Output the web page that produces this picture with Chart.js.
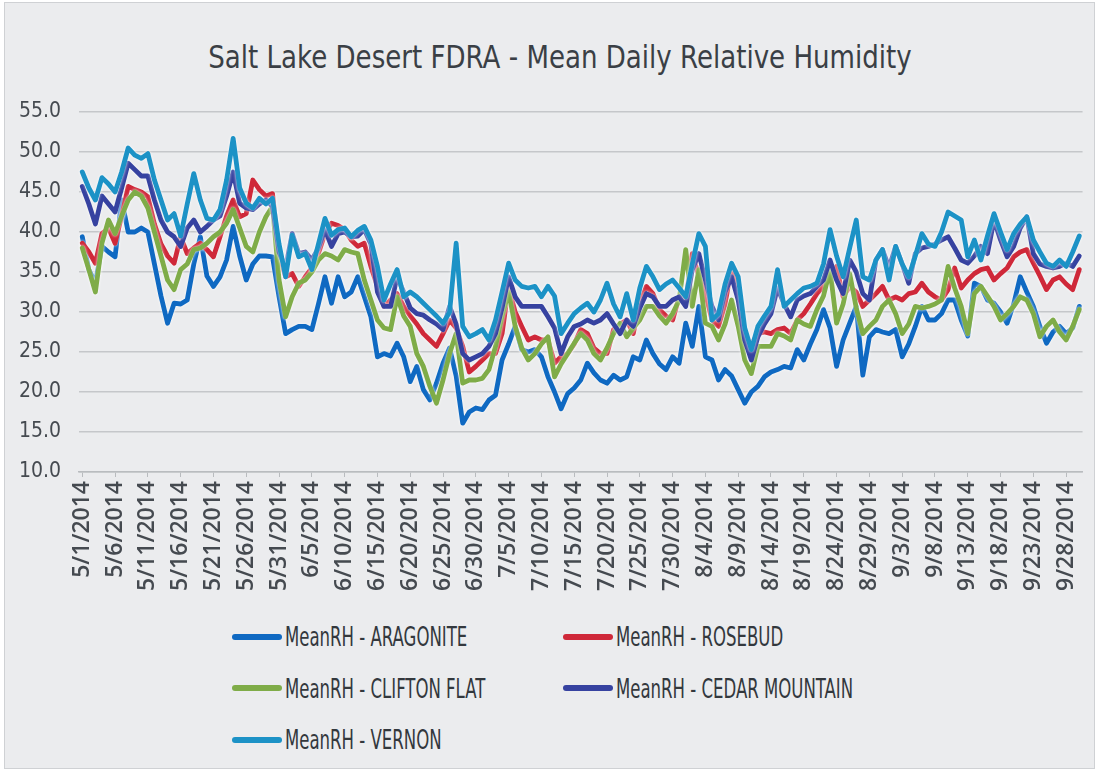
<!DOCTYPE html>
<html>
<head>
<meta charset="utf-8">
<title>Salt Lake Desert FDRA - Mean Daily Relative Humidity</title>
<script src="https://cdn.jsdelivr.net/npm/chart.js@4.4.1/dist/chart.umd.min.js"></script>
<style>
  html, body { margin: 0; padding: 0; }
  body { width: 1098px; height: 772px; background: #fff; overflow: hidden; position: relative; }
  .frame { position: absolute; left: 4px; top: 2px; right: 3px; bottom: 3px; background: #ebecee; border: 1px solid #cfd1d4; }
  #rhChart { position: absolute; left: 0; top: 0; }
  .chart-title {
    position: absolute; left: 0; width: 1120px; top: 39px; height: 36px; line-height: 36px;
    text-align: center; color: #3a3f45;
    font-family: 'Liberation Sans Narrow', 'DejaVu Sans Condensed', 'Roboto Condensed', Arial, sans-serif;
    font-size: 29px; transform: scaleY(1.12);
  }
  .legend {
    position: absolute; left: 232px; top: 611px;
    display: grid; grid-template-columns: 331px auto; grid-auto-rows: 51.5px;
    font-family: 'Liberation Sans Narrow', 'DejaVu Sans Condensed', 'Roboto Condensed', Arial, sans-serif;
    font-size: 18.4px; color: #33383d;
  }
  .legend-item { display: flex; align-items: center; white-space: nowrap; }
  .legend-item i { display: inline-block; width: 50px; height: 6px; border-radius: 3px; margin-right: 3px; }
  .legend-item span { display: inline-block; transform: scaleY(1.4); }
</style>
</head>
<body>
<div class="frame"></div>
<div class="chart-title">Salt Lake Desert FDRA - Mean Daily Relative Humidity</div>
<canvas id="rhChart" width="1098" height="600"></canvas>
<div class="legend" id="rhLegend"></div>
<script>
// categories: one per day, 5/1/2014 .. 9/30/2014
const dates = [
  '5/1/2014','5/2/2014','5/3/2014','5/4/2014','5/5/2014','5/6/2014','5/7/2014','5/8/2014','5/9/2014','5/10/2014',
  '5/11/2014','5/12/2014','5/13/2014','5/14/2014','5/15/2014','5/16/2014','5/17/2014','5/18/2014','5/19/2014','5/20/2014',
  '5/21/2014','5/22/2014','5/23/2014','5/24/2014','5/25/2014','5/26/2014','5/27/2014','5/28/2014','5/29/2014','5/30/2014',
  '5/31/2014',
  '6/1/2014','6/2/2014','6/3/2014','6/4/2014','6/5/2014','6/6/2014','6/7/2014','6/8/2014','6/9/2014','6/10/2014',
  '6/11/2014','6/12/2014','6/13/2014','6/14/2014','6/15/2014','6/16/2014','6/17/2014','6/18/2014','6/19/2014','6/20/2014',
  '6/21/2014','6/22/2014','6/23/2014','6/24/2014','6/25/2014','6/26/2014','6/27/2014','6/28/2014','6/29/2014','6/30/2014',
  '7/1/2014','7/2/2014','7/3/2014','7/4/2014','7/5/2014','7/6/2014','7/7/2014','7/8/2014','7/9/2014','7/10/2014',
  '7/11/2014','7/12/2014','7/13/2014','7/14/2014','7/15/2014','7/16/2014','7/17/2014','7/18/2014','7/19/2014','7/20/2014',
  '7/21/2014','7/22/2014','7/23/2014','7/24/2014','7/25/2014','7/26/2014','7/27/2014','7/28/2014','7/29/2014','7/30/2014',
  '7/31/2014',
  '8/1/2014','8/2/2014','8/3/2014','8/4/2014','8/5/2014','8/6/2014','8/7/2014','8/8/2014','8/9/2014','8/10/2014',
  '8/11/2014','8/12/2014','8/13/2014','8/14/2014','8/15/2014','8/16/2014','8/17/2014','8/18/2014','8/19/2014','8/20/2014',
  '8/21/2014','8/22/2014','8/23/2014','8/24/2014','8/25/2014','8/26/2014','8/27/2014','8/28/2014','8/29/2014','8/30/2014',
  '8/31/2014',
  '9/1/2014','9/2/2014','9/3/2014','9/4/2014','9/5/2014','9/6/2014','9/7/2014','9/8/2014','9/9/2014','9/10/2014',
  '9/11/2014','9/12/2014','9/13/2014','9/14/2014','9/15/2014','9/16/2014','9/17/2014','9/18/2014','9/19/2014','9/20/2014',
  '9/21/2014','9/22/2014','9/23/2014','9/24/2014','9/25/2014','9/26/2014','9/27/2014','9/28/2014','9/29/2014','9/30/2014'
];

// mean daily RH (%)
const aragonite = [
  39.4, 35.3, 33.6, 38.2, 37.5, 36.9, 44.0, 40.0, 40.0, 40.5,
  40.0, 36.0, 32.0, 28.6, 31.1, 31.0, 31.5, 36.0, 39.4, 34.5,
  33.2, 34.4, 36.5, 40.7, 37.0, 34.0, 36.0, 37.0, 37.0, 36.9,
  31.9, 27.3, 27.8, 28.2, 28.2, 27.8, 31.0, 34.4, 31.1, 34.4,
  31.9, 32.5, 34.4, 31.9, 29.4, 24.4, 24.8, 24.5, 26.1, 24.4,
  21.3, 23.2, 20.3, 19.0, 21.1, 23.6, 25.5, 22.0, 16.1, 17.5,
  18.0, 17.8, 19.0, 19.6, 24.0, 26.0, 28.2, 25.3, 25.0, 25.3,
  24.4, 21.9, 20.0, 17.9, 19.8, 20.5, 21.5, 23.6, 22.4, 21.5,
  21.1, 22.1, 21.5, 21.9, 24.4, 24.0, 26.5, 24.8, 23.5, 22.8,
  24.4, 23.6, 28.6, 25.7, 30.7, 24.4, 24.0, 21.5, 22.8, 22.0,
  20.3, 18.6, 20.0, 20.7, 21.9, 22.5, 22.8, 23.2, 23.0, 25.3,
  24.0, 26.0, 27.8, 30.3, 28.0, 23.2, 26.5, 28.6, 30.7, 22.1,
  26.9, 27.8, 27.5, 27.3, 27.8, 24.4, 26.0, 28.2, 30.7, 29.0,
  29.0, 29.8, 31.5, 31.5, 29.0, 27.0, 33.6, 33.2, 31.5, 31.1,
  30.0, 28.6, 31.0, 34.4, 32.5, 30.7, 28.2, 26.1, 27.5, 28.2,
  27.3, 28.0, 30.7
];
const rosebud = [
  38.6, 37.5, 36.1, 39.8, 40.5, 38.6, 42.0, 45.7, 45.3, 45.0,
  44.4, 41.0, 38.5, 37.0, 36.1, 39.4, 37.3, 38.0, 38.6, 37.8,
  36.9, 39.4, 42.0, 44.0, 41.9, 42.3, 46.5, 45.3, 44.5, 44.8,
  37.3, 34.4, 34.8, 33.2, 34.4, 35.5, 37.3, 39.8, 41.1, 40.8,
  40.3, 39.0, 38.2, 38.6, 35.7, 33.2, 30.7, 31.5, 32.3, 30.7,
  29.5, 28.5, 27.3, 26.5, 25.7, 27.3, 29.0, 28.0, 25.7, 22.5,
  23.2, 24.0, 24.8, 24.8, 27.3, 33.2, 30.0, 28.2, 26.5, 26.9,
  26.5, 26.5, 23.6, 24.4, 24.8, 26.0, 27.8, 27.3, 25.5, 24.8,
  24.8, 27.8, 28.5, 29.0, 27.3, 31.0, 33.2, 32.3, 30.3, 29.5,
  29.0, 31.9, 31.5, 37.3, 34.5, 32.3, 29.0, 28.2, 31.0, 35.7,
  33.0, 25.7, 26.0, 27.3, 27.5, 27.3, 27.8, 28.0, 27.3, 29.0,
  29.8, 31.0, 32.3, 33.2, 34.0, 35.7, 31.9, 33.2, 32.5, 30.7,
  31.5, 32.3, 33.2, 31.5, 31.9, 31.5, 32.3, 32.5, 33.6, 32.5,
  31.9, 31.5, 32.8, 35.5, 33.0, 34.0, 34.8, 35.3, 35.5, 34.0,
  34.8, 35.5, 36.9, 37.5, 37.8, 36.1, 34.5, 32.8, 34.0, 34.4,
  33.5, 32.8, 35.3
];
const cliftonFlat = [
  38.0, 35.3, 32.5, 38.6, 41.5, 39.8, 42.0, 44.0, 45.0, 44.5,
  43.0, 40.0, 37.0, 34.0, 32.8, 35.3, 36.0, 37.8, 38.0, 38.6,
  39.4, 40.0, 41.1, 42.8, 40.5, 38.2, 37.5, 40.0, 41.9, 43.2,
  34.0, 29.4, 31.9, 33.6, 34.0, 35.0, 36.5, 37.3, 37.0, 36.5,
  37.8, 37.5, 37.3, 34.0, 31.5, 29.0, 28.0, 27.8, 31.9, 29.5,
  28.2, 24.8, 23.2, 20.7, 18.6, 21.5, 24.8, 27.3, 21.1, 21.5,
  21.5, 21.7, 22.8, 25.7, 29.5, 32.5, 28.2, 25.5, 24.0, 24.8,
  26.0, 26.9, 21.9, 23.5, 24.8, 26.1, 27.3, 26.5, 24.8, 24.0,
  25.5, 27.3, 28.6, 26.9, 28.0, 29.0, 30.7, 30.7, 29.5, 28.6,
  29.8, 31.5, 37.8, 30.7, 35.3, 28.6, 28.2, 26.5, 28.5, 31.5,
  28.2, 24.0, 22.3, 25.7, 25.7, 25.7, 27.3, 27.0, 26.5, 29.0,
  28.5, 28.2, 30.3, 32.0, 35.3, 28.6, 31.0, 34.8, 30.5, 27.3,
  28.2, 29.0, 30.7, 31.5, 29.8, 27.3, 28.5, 30.7, 30.5, 30.7,
  31.0, 31.5, 35.7, 33.0, 30.7, 27.3, 32.3, 33.2, 32.0, 30.7,
  29.0, 29.8, 30.7, 31.9, 31.5, 29.8, 26.9, 28.2, 29.0, 27.5,
  26.5, 28.2, 30.3
];
const cedarMountain = [
  45.7, 43.5, 41.0, 44.5, 43.5, 42.5, 45.5, 48.6, 47.8, 47.0,
  47.0, 44.0, 41.5, 40.0, 39.4, 38.2, 40.5, 41.5, 40.0, 40.7,
  41.5, 42.0, 44.5, 47.5, 43.6, 43.0, 42.8, 43.5, 44.0, 43.2,
  37.5, 35.5, 39.8, 37.3, 37.5, 36.5, 38.0, 40.3, 38.2, 39.8,
  40.0, 39.4, 39.5, 40.3, 38.5, 32.5, 30.7, 30.7, 34.4, 32.5,
  30.5, 29.8, 29.6, 29.0, 28.5, 27.8, 30.7, 28.5, 24.8, 24.0,
  24.4, 24.8, 25.7, 27.3, 30.5, 34.4, 31.9, 30.7, 30.7, 30.7,
  30.7, 29.4, 28.0, 24.8, 26.9, 28.2, 28.5, 29.0, 28.6, 29.0,
  29.8, 28.5, 27.3, 29.0, 28.2, 30.5, 32.3, 31.9, 30.7, 30.7,
  31.5, 31.9, 30.7, 35.3, 37.3, 34.0, 30.7, 29.0, 32.5, 34.4,
  31.5, 26.5, 24.0, 26.9, 28.5, 29.8, 33.0, 31.0, 29.4, 31.5,
  32.0, 32.3, 33.2, 34.0, 36.5, 34.0, 32.3, 36.5, 35.0, 32.3,
  31.5, 36.5, 37.8, 35.5, 38.2, 36.0, 33.6, 37.3, 38.0, 38.2,
  38.5, 39.0, 39.4, 38.0, 36.5, 36.1, 37.0, 38.2, 37.3, 41.5,
  39.0, 36.9, 38.2, 40.5, 41.9, 37.3, 36.0, 35.7, 35.5, 35.7,
  36.1, 35.7, 37.0
];
const vernon = [
  47.5, 45.5, 44.0, 46.8, 46.0, 45.0, 47.5, 50.5, 49.6, 49.2,
  49.8, 46.5, 44.0, 41.5, 42.3, 39.5, 43.5, 47.3, 44.0, 41.7,
  41.5, 42.8, 46.5, 51.7, 45.5, 43.6, 43.0, 44.2, 43.5, 44.2,
  38.5, 34.4, 39.6, 36.9, 37.3, 35.3, 38.5, 41.7, 39.6, 40.3,
  40.5, 39.4, 40.2, 40.7, 39.0, 35.7, 31.5, 33.5, 35.3, 31.9,
  32.5, 31.9, 31.1, 30.3, 29.5, 28.6, 30.0, 38.6, 28.2, 26.9,
  27.3, 27.8, 26.5, 29.0, 32.5, 36.1, 34.0, 33.2, 33.0, 33.2,
  31.9, 33.2, 32.0, 27.3, 28.6, 29.8, 30.5, 31.1, 30.0, 31.5,
  33.6, 31.0, 29.4, 32.3, 29.0, 33.0, 35.7, 34.4, 32.8, 33.5,
  34.0, 33.0, 31.9, 36.0, 39.8, 38.2, 29.0, 29.8, 33.5, 36.1,
  34.4, 28.0, 25.3, 28.2, 29.5, 30.7, 35.3, 30.7, 31.5, 32.3,
  33.0, 33.2, 33.6, 36.0, 40.3, 37.0, 34.4, 38.0, 41.5, 34.4,
  34.0, 36.5, 37.8, 34.0, 38.2, 36.0, 34.4, 37.0, 39.8, 38.5,
  38.2, 40.0, 42.5, 42.0, 41.5, 36.9, 39.0, 36.5, 39.5, 42.3,
  40.0, 37.8, 39.8, 41.0, 41.9, 39.0, 37.5, 36.1, 35.7, 36.5,
  35.7, 37.5, 39.5
];

const yMin = 10;
const yMax = 55;
const yStep = 5;
const labelEvery = 5;   // one date label every 5 days

const NARROW = "'Liberation Sans Narrow', 'DejaVu Sans Condensed', 'Roboto Condensed', Arial, sans-serif";
const TEXT = '#454a50';

const series = [
  { label: 'MeanRH - ARAGONITE',      data: aragonite,     color: '#0f69c2', order: 5 },
  { label: 'MeanRH - ROSEBUD',        data: rosebud,       color: '#cf2839', order: 4 },
  { label: 'MeanRH - CLIFTON FLAT',   data: cliftonFlat,   color: '#7fac48', order: 3 },
  { label: 'MeanRH - CEDAR MOUNTAIN', data: cedarMountain, color: '#3642a0', order: 2 },
  { label: 'MeanRH - VERNON',         data: vernon,        color: '#1c92c6', order: 1 }
];

// white glow round each line, like the original export
const haloPlugin = {
  id: 'halo',
  beforeDatasetDraw(chart) {
    const ctx = chart.ctx;
    ctx.save();
    ctx.shadowColor = 'rgba(255,255,255,0.95)';
    ctx.shadowBlur = 3;
  },
  afterDatasetDraw(chart) {
    chart.ctx.restore();
  }
};

const chart = new Chart(document.getElementById('rhChart'), {
  type: 'line',
  data: {
    labels: dates,
    datasets: series.map(s => ({
      label: s.label,
      data: s.data,
      borderColor: s.color,
      backgroundColor: s.color,
      borderWidth: 4.8,
      borderJoinStyle: 'round',
      borderCapStyle: 'round',
      pointRadius: 0,
      tension: 0,
      fill: false,
      order: s.order
    }))
  },
  options: {
    responsive: false,
    animation: false,
    devicePixelRatio: 1,
    // title sits in the page above; top padding leaves its room
    layout: { padding: { left: 0, right: 15, top: 112, bottom: 0 } },
    plugins: {
      legend: { display: false },
      tooltip: { enabled: false },
      title: { display: false }
    },
    scales: {
      x: {
        offset: true,
        grid: { drawOnChartArea: false, drawTicks: true, tickLength: 5, color: '#b9bcbf' },
        border: { display: true, color: '#b9bcbf', width: 1.5 },
        ticks: {
          autoSkip: false, maxRotation: 90, minRotation: 90, padding: 4,
          color: TEXT,
          font: { family: "'Open Sans', sans-serif", size: 23, weight: '600' },
          callback: (v, i) => (i % labelEvery === 0 ? dates[i] : null)
        },
        afterFit: s => { s.height = 128; }
      },
      y: {
        min: yMin, max: yMax,
        grid: { color: '#c5c7ca', lineWidth: 1.5, drawTicks: false },
        border: { display: false },
        ticks: {
          stepSize: yStep, padding: 18, color: TEXT,
          font: { family: NARROW, size: 21 },
          callback: v => v.toFixed(1)
        },
        afterFit: s => { s.width = 79; }
      }
    }
  },
  plugins: [haloPlugin]
});

// two-column legend under the chart
document.getElementById('rhLegend').innerHTML = chart.data.datasets.map(ds => `
  <div class="legend-item"><i style="background:${ds.borderColor}"></i><span>${ds.label}</span></div>`).join('');
</script>
</body>
</html>
